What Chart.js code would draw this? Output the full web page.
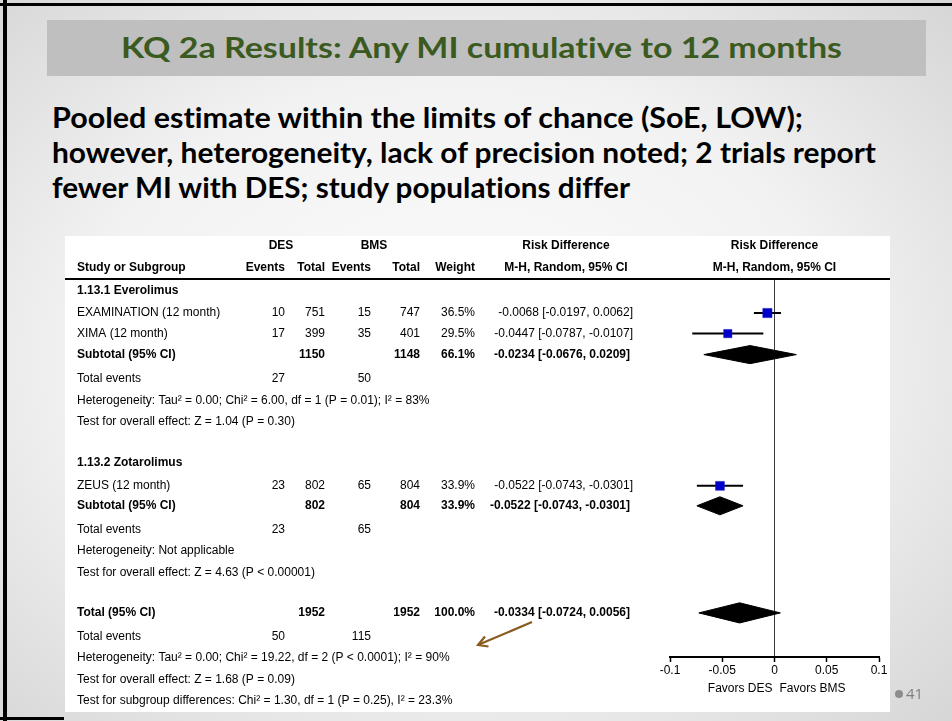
<!DOCTYPE html>
<html>
<head>
<meta charset="utf-8">
<script src="https://cdn.jsdelivr.net/npm/chart.js@4.4.0/dist/chart.umd.min.js"></script>
<style>
  html, body { margin: 0; padding: 0; }
  #slide {
    position: relative; width: 952px; height: 721px; overflow: hidden;
    background: radial-gradient(ellipse 72% 72% at 48% 50%, #fcfcfc 0%, #f2f2f2 55%, #d6d6d6 100%);
    font-family: Lato, "Open Sans", sans-serif;
  }
  .rule { position: absolute; background: #000; }
  #titlebar { position: absolute; left: 47px; top: 20px; width: 879px; height: 56px; background: #bfbfbf; }
  .fit {
    position: absolute; white-space: nowrap; font-weight: 700; font-size: 28px;
    line-height: 35px; transform-origin: 0 50%;
    font-variant-ligatures: none; font-feature-settings: "liga" 0, "clig" 0;
  }
  #title { color: #3b5a1f; }
  .lead { color: #000; }
  #forest { position: absolute; left: 65px; top: 236px; background: #fff; }
  #pageno { position: absolute; left: 895px; top: 683px; color: #7f7f7f; font-size: 15px; font-family: "Open Sans", sans-serif; }
  #pageno i { display: inline-block; width: 8px; height: 8px; border-radius: 50%; background: #8c8c8c; margin-right: 3px; vertical-align: 1px; }
  #note { position: absolute; left: 0; top: 0; }
</style>
</head>
<body>
<div id="slide">
  <div class="rule" style="left:0;top:3px;width:952px;height:3px"></div>
  <div class="rule" style="left:3px;top:0;width:4px;height:721px"></div>
  <div class="rule" style="left:0;top:717px;width:64px;height:3px"></div>

  <div id="titlebar"></div>
  <div id="title" class="fit" style="left:121px;top:30px" data-span="721">KQ 2a Results: Any MI cumulative to 12 months</div>

  <div class="fit lead" style="left:52px;top:100px" data-span="751">Pooled estimate within the limits of chance (SoE, LOW);</div>
  <div class="fit lead" style="left:52px;top:135px" data-span="824">however, heterogeneity, lack of precision noted; 2 trials report</div>
  <div class="fit lead" style="left:52px;top:170px" data-span="578">fewer MI with DES; study populations differ</div>

  <canvas id="forest" width="825" height="476"></canvas>

  <svg id="note" width="952" height="721">
    <line x1="532" y1="622" x2="479" y2="644.5" stroke="#8a5a1f" stroke-width="2.2"/>
    <polyline points="485,636.5 478,645 488.5,646.5" fill="none" stroke="#8a5a1f" stroke-width="2.2" stroke-linejoin="miter"/>
  </svg>

  <div id="pageno"><i></i>41</div>
</div>

<script>
// ---- Trials: any MI through 12 months, DES vs BMS ----
const studyNames = ['EXAMINATION (12 month)', 'XIMA (12 month)', 'ZEUS (12 month)'];
const studyGroup = [0, 0, 1];
const desEvents = [10, 17, 23];
const desTotal = [751, 399, 802];
const bmsEvents = [15, 35, 65];
const bmsTotal = [747, 401, 804];
const studyWeight = [36.5, 29.5, 33.9];
const studyRd = [-0.0068, -0.0447, -0.0522];
const studyLow = [-0.0197, -0.0787, -0.0743];
const studyHigh = [0.0062, -0.0107, -0.0301];

// ---- Subgroups ----
const groupNames = ['1.13.1 Everolimus', '1.13.2 Zotarolimus'];
const groupDesEvents = [27, 23];
const groupBmsEvents = [50, 65];
const groupDesTotal = [1150, 802];
const groupBmsTotal = [1148, 804];
const groupWeight = [66.1, 33.9];
const groupRd = [-0.0234, -0.0522];
const groupLow = [-0.0676, -0.0743];
const groupHigh = [0.0209, -0.0301];
const groupHeterogeneity = [
  'Heterogeneity: Tau² = 0.00; Chi² = 6.00, df = 1 (P = 0.01); I² = 83%',
  'Heterogeneity: Not applicable'
];
const groupOverall = [
  'Test for overall effect: Z = 1.04 (P = 0.30)',
  'Test for overall effect: Z = 4.63 (P < 0.00001)'
];

// ---- Pooled ----
const pooledTotals = [1952, 1952];
const pooledEvents = [50, 115];
const pooledWeight = 100.0;
const pooledRd = -0.0334;
const pooledLow = -0.0724;
const pooledHigh = 0.0056;
const pooledHeterogeneity = 'Heterogeneity: Tau² = 0.00; Chi² = 19.22, df = 2 (P < 0.0001); I² = 90%';
const pooledOverall = 'Test for overall effect: Z = 1.68 (P = 0.09)';
const subgroupTest = 'Test for subgroup differences: Chi² = 1.30, df = 1 (P = 0.25), I² = 23.3%';

// ---- Axis ----
const tickValues = [-0.1, -0.05, 0, 0.05, 0.1];
const tickLabels = ['-0.1', '-0.05', '0', '0.05', '0.1'];
const favours = ['Favors DES', 'Favors BMS'];

// Vertical placement of each table line, in row units of the y scale
const LINE = {
  head1: -1.57, head2: -0.52,
  group: [0.57, 8.76],
  study: [1.62, 2.6, 9.85],
  subtotal: [3.6, 10.8],
  groupEvents: [4.76, 11.95],
  groupHet: [5.81, 12.95],
  groupZ: [6.81, 14.0],
  total: 15.9, totalEvents: 17.05, totalHet: 18.05, totalZ: 19.1, subgroupTest: 20.1
};
// Column anchors (canvas px) for the left-hand table
const COL = { label: 12, desEv: 220, desTot: 260, bmsEv: 306, bmsTot: 355, weight: 410, ci: 568, des: 216, bms: 309, rdHead: 501 };

const fmtRd = (m, lo, hi) => `${m.toFixed(4)} [${lo.toFixed(4)}, ${hi.toFixed(4)}]`;
const fmtW = w => w.toFixed(1) + '%';

// ---- Chart datasets ----
const datasets = [];
// study markers (drawn on top)
datasets.push({
  type: 'scatter', order: 0,
  data: studyNames.map((_, i) => ({ x: studyRd[i], y: LINE.study[i] })),
  pointStyle: 'rect',
  pointRadius: c => Math.sqrt(studyWeight[c.dataIndex]) * 1.08,
  backgroundColor: '#0000c8', borderColor: '#1a1ad0', borderWidth: 0.5
});
// confidence intervals
studyNames.forEach((_, i) => {
  datasets.push({
    type: 'line', order: 1,
    data: [{ x: studyLow[i], y: LINE.study[i] }, { x: studyHigh[i], y: LINE.study[i] }],
    borderColor: '#000', borderWidth: 2, pointRadius: 0, tension: 0, fill: false
  });
});
// summary diamonds
const diamond = (m, lo, hi, row, h) => ({
  type: 'line', order: 1,
  data: [{ x: lo, y: row }, { x: m, y: row - h }, { x: hi, y: row }, { x: m, y: row + h }, { x: lo, y: row }],
  borderColor: '#000', backgroundColor: '#000', borderWidth: 1, pointRadius: 0, tension: 0, fill: 'shape'
});
groupNames.forEach((_, g) => datasets.push(diamond(groupRd[g], groupLow[g], groupHigh[g], LINE.subtotal[g], 0.43)));
datasets.push(diamond(pooledRd, pooledLow, pooledHigh, LINE.total, 0.48));

// ---- Table text drawn alongside the plot ----
const tablePlugin = {
  id: 'studyTable',
  afterDraw(chart) {
    const { ctx, chartArea, scales: { x, y } } = chart;
    const put = (s, px, line, align = 'left', bold = false) => {
      ctx.font = (bold ? 'bold ' : '') + '12px "Liberation Sans", Arial, sans-serif';
      ctx.textAlign = align;
      ctx.fillText(String(s), px, y.getPixelForValue(line));
    };
    ctx.save();
    ctx.fillStyle = '#000';
    ctx.textBaseline = 'middle';

    // header rule
    ctx.fillRect(0, chartArea.top - 1, chart.width, 2);

    const plotMid = (chartArea.left + chartArea.right) / 2;
    put('DES', COL.des, LINE.head1, 'center', true);
    put('BMS', COL.bms, LINE.head1, 'center', true);
    put('Risk Difference', COL.rdHead, LINE.head1, 'center', true);
    put('Risk Difference', plotMid, LINE.head1, 'center', true);
    put('Study or Subgroup', COL.label, LINE.head2, 'left', true);
    put('Events', COL.desEv, LINE.head2, 'right', true);
    put('Total', COL.desTot, LINE.head2, 'right', true);
    put('Events', COL.bmsEv, LINE.head2, 'right', true);
    put('Total', COL.bmsTot, LINE.head2, 'right', true);
    put('Weight', COL.weight, LINE.head2, 'right', true);
    put('M-H, Random, 95% CI', COL.rdHead, LINE.head2, 'center', true);
    put('M-H, Random, 95% CI', plotMid, LINE.head2, 'center', true);

    groupNames.forEach((name, g) => {
      put(name, COL.label, LINE.group[g], 'left', true);
      studyNames.forEach((s, i) => {
        if (studyGroup[i] !== g) return;
        const r = LINE.study[i];
        put(s, COL.label, r);
        put(desEvents[i], COL.desEv, r, 'right');
        put(desTotal[i], COL.desTot, r, 'right');
        put(bmsEvents[i], COL.bmsEv, r, 'right');
        put(bmsTotal[i], COL.bmsTot, r, 'right');
        put(fmtW(studyWeight[i]), COL.weight, r, 'right');
        put(fmtRd(studyRd[i], studyLow[i], studyHigh[i]), COL.ci, r, 'right');
      });
      const sr = LINE.subtotal[g];
      put('Subtotal (95% CI)', COL.label, sr, 'left', true);
      put(groupDesTotal[g], COL.desTot, sr, 'right', true);
      put(groupBmsTotal[g], COL.bmsTot, sr, 'right', true);
      put(fmtW(groupWeight[g]), COL.weight, sr, 'right', true);
      put(fmtRd(groupRd[g], groupLow[g], groupHigh[g]), COL.ci - 3, sr, 'right', true);
      put('Total events', COL.label, LINE.groupEvents[g]);
      put(groupDesEvents[g], COL.desEv, LINE.groupEvents[g], 'right');
      put(groupBmsEvents[g], COL.bmsEv, LINE.groupEvents[g], 'right');
      put(groupHeterogeneity[g], COL.label, LINE.groupHet[g]);
      put(groupOverall[g], COL.label, LINE.groupZ[g]);
    });

    put('Total (95% CI)', COL.label, LINE.total, 'left', true);
    put(pooledTotals[0], COL.desTot, LINE.total, 'right', true);
    put(pooledTotals[1], COL.bmsTot, LINE.total, 'right', true);
    put(fmtW(pooledWeight), COL.weight, LINE.total, 'right', true);
    put(fmtRd(pooledRd, pooledLow, pooledHigh), COL.ci - 3, LINE.total, 'right', true);
    put('Total events', COL.label, LINE.totalEvents);
    put(pooledEvents[0], COL.desEv, LINE.totalEvents, 'right');
    put(pooledEvents[1], COL.bmsEv, LINE.totalEvents, 'right');
    put(pooledHeterogeneity, COL.label, LINE.totalHet);
    put(pooledOverall, COL.label, LINE.totalZ);
    put(subgroupTest, COL.label, LINE.subgroupTest);

    // direction labels under the axis
    const zero = x.getPixelForValue(0);
    ctx.font = '12px "Liberation Sans", Arial, sans-serif';
    ctx.textAlign = 'right';
    ctx.fillText(favours[0], zero - 2, chartArea.bottom + 32);
    ctx.textAlign = 'left';
    ctx.fillText(favours[1], zero + 5, chartArea.bottom + 32);
    ctx.restore();
  }
};

function drawChart() {
  new Chart(document.getElementById('forest'), {
    type: 'line',
    data: { datasets },
    options: {
      responsive: false, animation: false, devicePixelRatio: 1,
      layout: { padding: { left: 605, right: 11, top: 43, bottom: 0 } },
      plugins: { legend: { display: false }, tooltip: { enabled: false }, title: { display: false } },
      scales: {
        x: {
          type: 'linear', min: -0.1, max: 0.1, position: 'bottom',
          afterBuildTicks: s => { s.ticks = tickValues.map(v => ({ value: v })); },
          afterFit: s => { s.height = 55; },
          ticks: {
            callback: v => tickLabels[tickValues.indexOf(v)],
            color: '#000', padding: 1, maxRotation: 0, autoSkip: false,
            font: { family: '"Liberation Sans", Arial, sans-serif', size: 12 }
          },
          grid: {
            drawOnChartArea: true,
            color: c => (c.tick && c.tick.value === 0 ? '#3a3a3a' : 'rgba(0,0,0,0)'),
            lineWidth: 1, tickColor: '#000', tickLength: 5, tickWidth: 1.5
          },
          border: { display: true, color: '#000', width: 2 }
        },
        y: { type: 'linear', reverse: true, min: 0, max: 18, display: false }
      }
    },
    plugins: [tablePlugin]
  });
}

function fitText() {
  document.querySelectorAll('.fit').forEach(el => {
    const target = +el.dataset.span;
    const w = el.getBoundingClientRect().width;
    if (w > 0) el.style.transform = `scaleX(${target / w})`;
  });
}

fitText();
drawChart();
if (document.fonts && document.fonts.ready) {
  document.fonts.ready.then(() => { document.querySelectorAll('.fit').forEach(el => el.style.transform = ''); fitText(); });
}
</script>
</body>
</html>
